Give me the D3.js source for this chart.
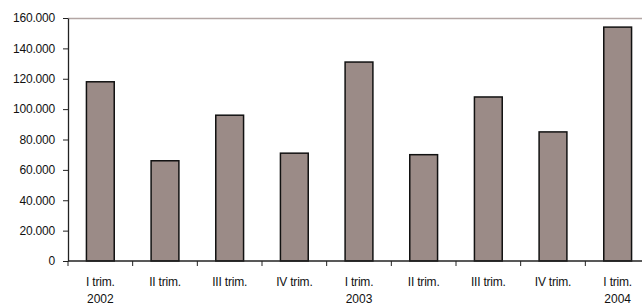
<!DOCTYPE html>
<html>
<head>
<meta charset="utf-8">
<script src="https://cdn.jsdelivr.net/npm/d3@7"></script>
<style>
  body { margin: 0; background: #fff; }
  svg { display: block; font-family: "Liberation Sans", Arial, sans-serif; }
</style>
</head>
<body>
<svg id="chart" width="642" height="305"></svg>
<script>
// trimestri e anni
const quarters = ["I trim.", "II trim.", "III trim.", "IV trim.", "I trim.", "II trim.", "III trim.", "IV trim.", "I trim."];
const years = ["2002", "", "", "", "2003", "", "", "", "2004"];
const values = [118000, 66000, 96000, 71000, 131000, 70000, 108000, 85000, 154000];
const yTicks = [0, 20000, 40000, 60000, 80000, 100000, 120000, 140000, 160000];

const svg = d3.select("#chart");
const m = { left: 68, top: 18, right: 650, bottom: 261 };

const keys = quarters.map((q, i) => i);
const x = d3.scaleBand().domain(keys).range([m.left, m.right]).paddingInner(0.57).paddingOuter(0.285);
const y = d3.scaleLinear().domain([0, 160000]).range([m.bottom, m.top]);

const fmt = v => d3.format(",")(v).replace(/,/g, ".");

// linea superiore
svg.append("line")
  .attr("x1", m.left).attr("x2", m.right)
  .attr("y1", y(160000) + 0.5).attr("y2", y(160000) + 0.5)
  .attr("stroke", "#b3a6a4").attr("stroke-width", 1.5);

// barre
svg.selectAll(".bar").data(values).enter().append("rect")
  .attr("class", "bar")
  .attr("x", (d, i) => x(i))
  .attr("y", d => y(d))
  .attr("width", x.bandwidth())
  .attr("height", d => y(0) - y(d))
  .attr("fill", "#9b8b87")
  .attr("stroke", "#111")
  .attr("stroke-width", 1.5);

// asse y
const yAxis = svg.append("g")
  .attr("transform", `translate(${m.left},0)`)
  .call(d3.axisLeft(y).tickValues(yTicks).tickFormat(fmt).tickSize(5).tickPadding(8).tickSizeOuter(0));
yAxis.select(".domain").attr("stroke", "#222").attr("stroke-width", 1.3);
yAxis.selectAll(".tick line").attr("stroke", "#222");
yAxis.selectAll("text").attr("font-size", 12).attr("fill", "#111")
  .attr("font-family", "Liberation Sans, Arial, sans-serif").attr("letter-spacing", "-0.2");

// asse x
const bandStep = x.step();
const catTicks = keys.map(i => x(i) + x.bandwidth() / 2 - bandStep / 2);
const xAxisG = svg.append("g");
xAxisG.append("line")
  .attr("x1", m.left).attr("x2", m.right)
  .attr("y1", m.bottom).attr("y2", m.bottom)
  .attr("stroke", "#222").attr("stroke-width", 1.3);
xAxisG.selectAll(".ct").data(catTicks).enter().append("line")
  .attr("x1", d => d).attr("x2", d => d)
  .attr("y1", m.bottom).attr("y2", m.bottom + 5)
  .attr("stroke", "#222");

xAxisG.selectAll(".ql").data(quarters).enter().append("text")
  .attr("x", (d, i) => x(i) + x.bandwidth() / 2)
  .attr("y", 286)
  .attr("text-anchor", "middle")
  .attr("font-size", 12).attr("fill", "#111").attr("letter-spacing", "-0.2")
  .text(d => d);

xAxisG.selectAll(".yl").data(years).enter().append("text")
  .attr("x", (d, i) => x(i) + x.bandwidth() / 2)
  .attr("y", 303)
  .attr("text-anchor", "middle")
  .attr("font-size", 12).attr("fill", "#111")
  .text(d => d);
</script>
</body>
</html>
